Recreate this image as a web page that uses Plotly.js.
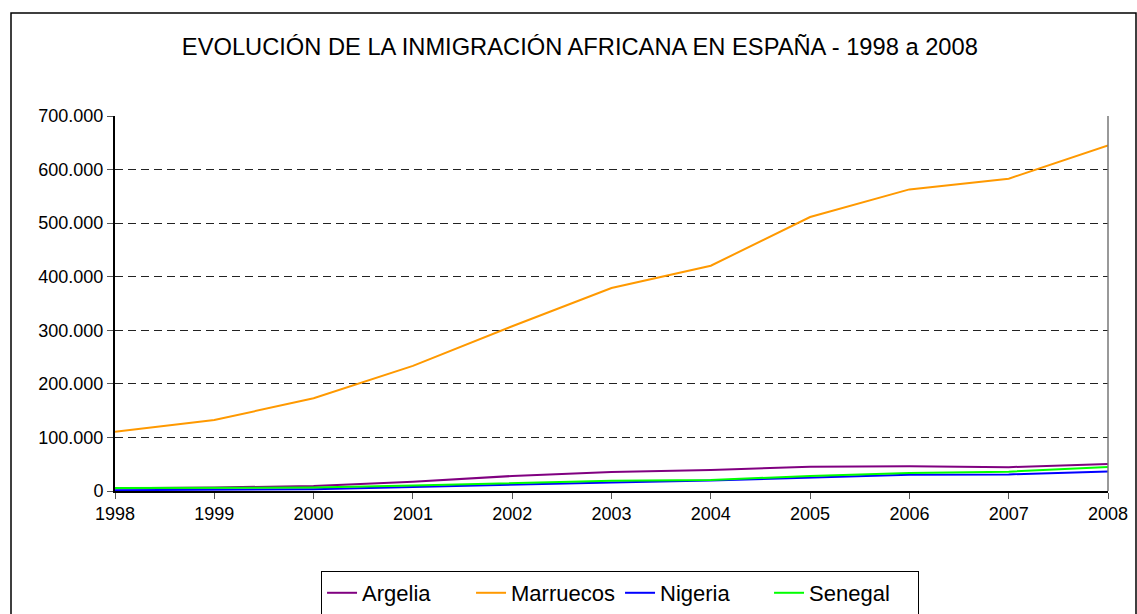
<!DOCTYPE html>
<html>
<head>
<meta charset="utf-8">
<script src="https://cdn.plot.ly/plotly-3.0.1.min.js"></script>
<style>
html,body{margin:0;padding:0;background:#fff;}
#chart{width:1137px;height:614px;}
</style>
</head>
<body>
<div id="chart"></div>
<script>
const years = [1998, 1999, 2000, 2001, 2002, 2003, 2004, 2005, 2006, 2007, 2008];
const argelia   = [5000, 6500, 9500, 17500, 28000, 35500, 39000, 45500, 46000, 44500, 50500];
const marruecos = [110500, 132500, 173000, 233500, 307500, 379000, 420500, 511500, 563000, 583000, 645000];
const nigeria   = [1500, 2000, 3500, 7500, 12000, 16000, 19500, 25500, 30500, 31000, 36500];
const senegal   = [5500, 5800, 6500, 10500, 15000, 19000, 20500, 28000, 33500, 36000, 45000];
const seriesNames = ['Argelia', 'Marruecos', 'Nigeria', 'Senegal'];
const seriesColors = ['#800080', '#FF9900', '#0000FF', '#00FF00'];
const seriesValues = [argelia, marruecos, nigeria, senegal];
const titleText = 'EVOLUCIÓN DE LA INMIGRACIÓN AFRICANA EN ESPAÑA - 1998 a 2008';

const FONT = 'Liberation Sans, Arial, sans-serif';

const traces = seriesNames.map((n, i) => ({
  type: 'scatter',
  mode: 'lines',
  name: n,
  x: years,
  y: seriesValues[i],
  line: {color: seriesColors[i], width: 2},
  hoverinfo: 'x+y+name'
}));

const layout = {
  width: 1137,
  height: 614,
  margin: {l: 115, r: 29, t: 116, b: 123, autoexpand: false},
  paper_bgcolor: '#ffffff',
  plot_bgcolor: '#ffffff',
  separators: ',.',
  font: {family: FONT, color: '#000', size: 18},
  title: {
    text: titleText,
    font: {family: FONT, size: 23.7, color: '#000'},
    x: 0.51, xref: 'container', xanchor: 'center',
    y: 1 - 47/614, yref: 'container', yanchor: 'middle'
  },
  xaxis: {
    range: [1998, 2008],
    tickmode: 'array',
    tickvals: years,
    ticktext: years.map(String),
    ticks: 'outside',
    ticklen: 6,
    tickcolor: '#555',
    showline: true,
    linecolor: '#000',
    linewidth: 1.5,
    showgrid: false,
    zeroline: false,
    automargin: false,
    tickfont: {family: FONT, size: 18, color: '#000'}
  },
  yaxis: {
    range: [0, 700000],
    dtick: 100000,
    tick0: 0,
    tickformat: ',d',
    ticks: 'outside',
    ticklen: 6,
    tickcolor: '#555',
    showline: true,
    linecolor: '#000',
    linewidth: 2,
    showgrid: true,
    gridcolor: '#222',
    gridwidth: 1,
    griddash: '8px,5px',
    zeroline: false,
    automargin: false,
    tickfont: {family: FONT, size: 18, color: '#000'}
  },
  legend: {
    orientation: 'h',
    x: 0.5086, xanchor: 'center',
    y: -0.2133, yanchor: 'top',
    bordercolor: '#000',
    borderwidth: 1,
    bgcolor: '#fff',
    font: {family: FONT, size: 22, color: '#000'},
    entrywidth: 104,
    entrywidthmode: 'pixels',
    tracegroupgap: 0
  },
  shapes: [
    {type: 'line', xref: 'paper', yref: 'paper', x0: 1, x1: 1, y0: 0, y1: 1,
     line: {color: '#777', width: 1.5}},
    {type: 'rect', xref: 'paper', yref: 'paper',
     x0: (11 - 115) / 993, x1: (1136 - 115) / 993,
     y0: (491 - 640) / 375, y1: (491 - 13) / 375,
     line: {color: '#000', width: 1.5}, fillcolor: 'rgba(0,0,0,0)', layer: 'below'}
  ],
  showlegend: true
};

Plotly.newPlot('chart', traces, layout, {displayModeBar: false, responsive: false});
</script>
</body>
</html>
